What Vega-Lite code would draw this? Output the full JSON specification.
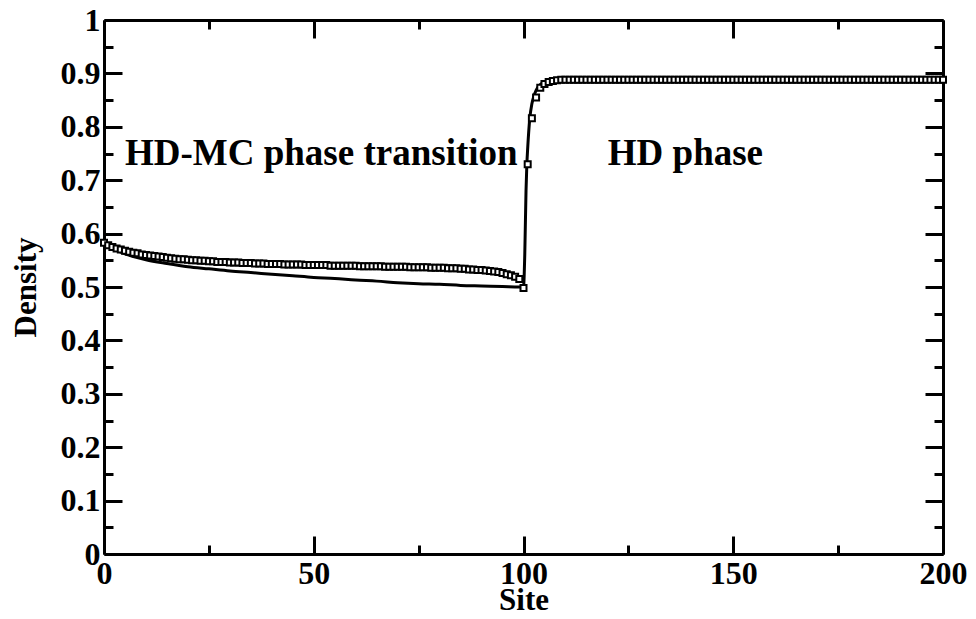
{
  "$schema": "https://vega.github.io/schema/vega-lite/v6.json",
  "width": 839,
  "height": 534,
  "autosize": {"type": "none"},
  "padding": {"left": 104, "top": 20, "right": 33, "bottom": 65},
  "background": "white",
  "config": {
    "view": {"stroke": null},
    "font": "Liberation Serif",
    "axis": {
      "domainColor": "black",
      "domainWidth": 3,
      "tickColor": "black",
      "tickWidth": 3,
      "grid": false,
      "labelFont": "Liberation Serif",
      "labelFontWeight": "bold",
      "labelFontSize": 32,
      "labelColor": "black",
      "labelFlush": false,
      "labelOverlap": false,
      "titleFont": "Liberation Serif",
      "titleFontWeight": "bold",
      "titleFontSize": 31,
      "titleColor": "black"
    }
  },
  "datasets": {
    "mc": [
      {"site": 0, "density": 0.583}, {"site": 1, "density": 0.578}, {"site": 2, "density": 0.575}, {"site": 3, "density": 0.572}, {"site": 4, "density": 0.570},
      {"site": 5, "density": 0.568}, {"site": 6, "density": 0.566}, {"site": 7, "density": 0.564}, {"site": 8, "density": 0.563}, {"site": 9, "density": 0.561},
      {"site": 10, "density": 0.560}, {"site": 11, "density": 0.559}, {"site": 12, "density": 0.558}, {"site": 13, "density": 0.557}, {"site": 14, "density": 0.556},
      {"site": 15, "density": 0.555}, {"site": 16, "density": 0.554}, {"site": 17, "density": 0.553}, {"site": 18, "density": 0.552}, {"site": 19, "density": 0.552},
      {"site": 20, "density": 0.551}, {"site": 21, "density": 0.550}, {"site": 22, "density": 0.550}, {"site": 23, "density": 0.549}, {"site": 24, "density": 0.549},
      {"site": 25, "density": 0.548}, {"site": 26, "density": 0.548}, {"site": 27, "density": 0.547}, {"site": 28, "density": 0.547}, {"site": 29, "density": 0.547},
      {"site": 30, "density": 0.546}, {"site": 31, "density": 0.546}, {"site": 32, "density": 0.546}, {"site": 33, "density": 0.545}, {"site": 34, "density": 0.545},
      {"site": 35, "density": 0.545}, {"site": 36, "density": 0.544}, {"site": 37, "density": 0.544}, {"site": 38, "density": 0.544}, {"site": 39, "density": 0.543},
      {"site": 40, "density": 0.543}, {"site": 41, "density": 0.543}, {"site": 42, "density": 0.543}, {"site": 43, "density": 0.542}, {"site": 44, "density": 0.542},
      {"site": 45, "density": 0.542}, {"site": 46, "density": 0.542}, {"site": 47, "density": 0.542}, {"site": 48, "density": 0.541}, {"site": 49, "density": 0.541},
      {"site": 50, "density": 0.541}, {"site": 51, "density": 0.541}, {"site": 52, "density": 0.541}, {"site": 53, "density": 0.541}, {"site": 54, "density": 0.540},
      {"site": 55, "density": 0.540}, {"site": 56, "density": 0.540}, {"site": 57, "density": 0.540}, {"site": 58, "density": 0.540}, {"site": 59, "density": 0.540},
      {"site": 60, "density": 0.540}, {"site": 61, "density": 0.539}, {"site": 62, "density": 0.539}, {"site": 63, "density": 0.539}, {"site": 64, "density": 0.539},
      {"site": 65, "density": 0.539}, {"site": 66, "density": 0.539}, {"site": 67, "density": 0.538}, {"site": 68, "density": 0.538}, {"site": 69, "density": 0.538},
      {"site": 70, "density": 0.538}, {"site": 71, "density": 0.538}, {"site": 72, "density": 0.538}, {"site": 73, "density": 0.537}, {"site": 74, "density": 0.537},
      {"site": 75, "density": 0.537}, {"site": 76, "density": 0.537}, {"site": 77, "density": 0.537}, {"site": 78, "density": 0.536}, {"site": 79, "density": 0.536},
      {"site": 80, "density": 0.536}, {"site": 81, "density": 0.536}, {"site": 82, "density": 0.535}, {"site": 83, "density": 0.535}, {"site": 84, "density": 0.535},
      {"site": 85, "density": 0.534}, {"site": 86, "density": 0.534}, {"site": 87, "density": 0.533}, {"site": 88, "density": 0.533}, {"site": 89, "density": 0.532},
      {"site": 90, "density": 0.532}, {"site": 91, "density": 0.531}, {"site": 92, "density": 0.530}, {"site": 93, "density": 0.529}, {"site": 94, "density": 0.528},
      {"site": 95, "density": 0.526}, {"site": 96, "density": 0.524}, {"site": 97, "density": 0.522}, {"site": 98, "density": 0.519}, {"site": 99, "density": 0.515},
      {"site": 100, "density": 0.498}, {"site": 101, "density": 0.730}, {"site": 102, "density": 0.816}, {"site": 103, "density": 0.855}, {"site": 104, "density": 0.873},
      {"site": 105, "density": 0.880}, {"site": 106, "density": 0.884}, {"site": 107, "density": 0.886}, {"site": 108, "density": 0.887}, {"site": 109, "density": 0.888},
      {"site": 110, "density": 0.888}, {"site": 111, "density": 0.888}, {"site": 112, "density": 0.888}, {"site": 113, "density": 0.888}, {"site": 114, "density": 0.888},
      {"site": 115, "density": 0.888}, {"site": 116, "density": 0.888}, {"site": 117, "density": 0.888}, {"site": 118, "density": 0.888}, {"site": 119, "density": 0.888},
      {"site": 120, "density": 0.888}, {"site": 121, "density": 0.888}, {"site": 122, "density": 0.888}, {"site": 123, "density": 0.888}, {"site": 124, "density": 0.888},
      {"site": 125, "density": 0.888}, {"site": 126, "density": 0.888}, {"site": 127, "density": 0.888}, {"site": 128, "density": 0.888}, {"site": 129, "density": 0.888},
      {"site": 130, "density": 0.888}, {"site": 131, "density": 0.888}, {"site": 132, "density": 0.888}, {"site": 133, "density": 0.888}, {"site": 134, "density": 0.888},
      {"site": 135, "density": 0.888}, {"site": 136, "density": 0.888}, {"site": 137, "density": 0.888}, {"site": 138, "density": 0.888}, {"site": 139, "density": 0.888},
      {"site": 140, "density": 0.888}, {"site": 141, "density": 0.888}, {"site": 142, "density": 0.888}, {"site": 143, "density": 0.888}, {"site": 144, "density": 0.888},
      {"site": 145, "density": 0.888}, {"site": 146, "density": 0.888}, {"site": 147, "density": 0.888}, {"site": 148, "density": 0.888}, {"site": 149, "density": 0.888},
      {"site": 150, "density": 0.888}, {"site": 151, "density": 0.888}, {"site": 152, "density": 0.888}, {"site": 153, "density": 0.888}, {"site": 154, "density": 0.888},
      {"site": 155, "density": 0.888}, {"site": 156, "density": 0.888}, {"site": 157, "density": 0.888}, {"site": 158, "density": 0.888}, {"site": 159, "density": 0.888},
      {"site": 160, "density": 0.888}, {"site": 161, "density": 0.888}, {"site": 162, "density": 0.888}, {"site": 163, "density": 0.888}, {"site": 164, "density": 0.888},
      {"site": 165, "density": 0.888}, {"site": 166, "density": 0.888}, {"site": 167, "density": 0.888}, {"site": 168, "density": 0.888}, {"site": 169, "density": 0.888},
      {"site": 170, "density": 0.888}, {"site": 171, "density": 0.888}, {"site": 172, "density": 0.888}, {"site": 173, "density": 0.888}, {"site": 174, "density": 0.888},
      {"site": 175, "density": 0.888}, {"site": 176, "density": 0.888}, {"site": 177, "density": 0.888}, {"site": 178, "density": 0.888}, {"site": 179, "density": 0.888},
      {"site": 180, "density": 0.888}, {"site": 181, "density": 0.888}, {"site": 182, "density": 0.888}, {"site": 183, "density": 0.888}, {"site": 184, "density": 0.888},
      {"site": 185, "density": 0.888}, {"site": 186, "density": 0.888}, {"site": 187, "density": 0.888}, {"site": 188, "density": 0.888}, {"site": 189, "density": 0.888},
      {"site": 190, "density": 0.888}, {"site": 191, "density": 0.888}, {"site": 192, "density": 0.888}, {"site": 193, "density": 0.888}, {"site": 194, "density": 0.888},
      {"site": 195, "density": 0.888}, {"site": 196, "density": 0.888}, {"site": 197, "density": 0.888}, {"site": 198, "density": 0.888}, {"site": 199, "density": 0.888},
      {"site": 200, "density": 0.888}
    ],
    "theory": [
      {"site": 0, "density": 0.585}, {"site": 1, "density": 0.578}, {"site": 2, "density": 0.573}, {"site": 3, "density": 0.569},
      {"site": 5, "density": 0.562}, {"site": 7, "density": 0.557}, {"site": 10, "density": 0.551}, {"site": 15, "density": 0.544},
      {"site": 20, "density": 0.538}, {"site": 25, "density": 0.534}, {"site": 30, "density": 0.530}, {"site": 35, "density": 0.527},
      {"site": 40, "density": 0.524}, {"site": 45, "density": 0.521}, {"site": 50, "density": 0.518}, {"site": 55, "density": 0.516},
      {"site": 60, "density": 0.513}, {"site": 65, "density": 0.511}, {"site": 70, "density": 0.508}, {"site": 75, "density": 0.506},
      {"site": 80, "density": 0.505}, {"site": 85, "density": 0.503}, {"site": 90, "density": 0.502}, {"site": 95, "density": 0.501},
      {"site": 99, "density": 0.500}, {"site": 100, "density": 0.500}, {"site": 100.3, "density": 0.56}, {"site": 100.6, "density": 0.68},
      {"site": 100.8, "density": 0.73}, {"site": 101, "density": 0.76}, {"site": 101.5, "density": 0.816}, {"site": 102, "density": 0.843},
      {"site": 102.5, "density": 0.858}, {"site": 103, "density": 0.868}, {"site": 104, "density": 0.879}, {"site": 105, "density": 0.884},
      {"site": 106, "density": 0.886}, {"site": 108, "density": 0.888}, {"site": 120, "density": 0.888}, {"site": 200, "density": 0.888}
    ],
    "labels": [
      {"site": 5.0, "density": 0.728, "text": "HD-MC phase transition"},
      {"site": 120.1, "density": 0.728, "text": "HD phase"}
    ]
  },
  "resolve": {"axis": {"x": "independent", "y": "independent"}},
  "layer": [
    {
      "data": {"name": "theory"},
      "mark": {"type": "line", "color": "black", "strokeWidth": 3, "interpolate": "monotone", "clip": true},
      "encoding": {
        "x": {
          "field": "site", "type": "quantitative",
          "scale": {"domain": [0, 200], "nice": false, "zero": false},
          "axis": {
            "orient": "bottom",
            "title": "Site",
            "values": [0, 25, 50, 75, 100, 125, 150, 175, 200],
            "labelExpr": "datum.value % 50 == 0 ? datum.label : ''",
            "tickSize": {"condition": {"test": "datum.value % 50 == 0", "value": -18}, "value": -9},
            "labelPadding": 22,
            "titlePadding": -13
          }
        },
        "y": {
          "field": "density", "type": "quantitative",
          "scale": {"domain": [0, 1], "nice": false},
          "axis": {
            "orient": "left",
            "title": "Density",
            "format": "~g",
            "values": [0, 0.05, 0.1, 0.15, 0.2, 0.25, 0.3, 0.35, 0.4, 0.45, 0.5, 0.55, 0.6, 0.65, 0.7, 0.75, 0.8, 0.85, 0.9, 0.95, 1],
            "labelExpr": "abs(datum.value*10 - round(datum.value*10)) < 0.001 ? datum.label : ''",
            "tickSize": {"condition": {"test": "abs(datum.value*10 - round(datum.value*10)) < 0.001", "value": -18}, "value": -9},
            "labelPadding": 22,
            "titlePadding": 18
          }
        }
      }
    },
    {
      "data": {"name": "mc"},
      "mark": {"type": "point", "shape": "square", "size": 36, "filled": false, "fill": "white", "fillOpacity": 1, "stroke": "black", "strokeWidth": 2, "opacity": 1},
      "encoding": {
        "x": {
          "field": "site", "type": "quantitative",
          "axis": {
            "orient": "top", "title": null, "labels": false,
            "values": [0, 25, 50, 75, 100, 125, 150, 175, 200],
            "tickSize": {"condition": {"test": "datum.value % 50 == 0", "value": -18}, "value": -9}
          }
        },
        "y": {
          "field": "density", "type": "quantitative",
          "axis": {
            "orient": "right", "title": null, "labels": false,
            "values": [0, 0.05, 0.1, 0.15, 0.2, 0.25, 0.3, 0.35, 0.4, 0.45, 0.5, 0.55, 0.6, 0.65, 0.7, 0.75, 0.8, 0.85, 0.9, 0.95, 1],
            "tickSize": {"condition": {"test": "abs(datum.value*10 - round(datum.value*10)) < 0.001", "value": -18}, "value": -9}
          }
        },
        "order": {"field": "site", "type": "quantitative"}
      }
    },
    {
      "data": {"name": "labels"},
      "mark": {"type": "text", "align": "left", "baseline": "alphabetic", "font": "Liberation Serif", "fontWeight": "bold", "fontSize": 37, "color": "black"},
      "encoding": {
        "x": {"field": "site", "type": "quantitative", "axis": null},
        "y": {"field": "density", "type": "quantitative", "axis": null},
        "text": {"field": "text"}
      }
    }
  ]
}
